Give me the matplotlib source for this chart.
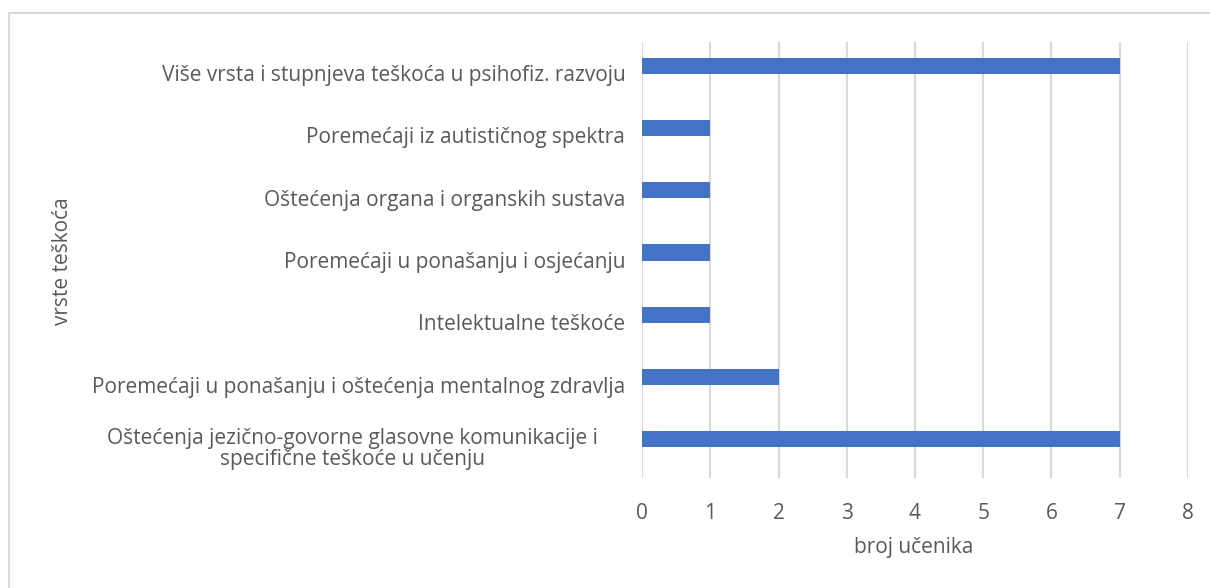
import matplotlib.pyplot as plt
import matplotlib.transforms as mtransforms
import numpy as np

plt.rcParams['font.family'] = ['Open Sans', 'DejaVu Sans']

categories = [
    "Oštećenja jezično-govorne glasovne komunikacije i\nspecifične teškoće u učenju",
    "Poremećaji u ponašanju i oštećenja mentalnog zdravlja",
    "Intelektualne teškoće",
    "Poremećaji u ponašanju i osjećanju",
    "Oštećenja organa i organskih sustava",
    "Poremećaji iz autističnog spektra",
    "Više vrsta i stupnjeva teškoća u psihofiz. razvoju",
]
values = [7, 2, 1, 1, 1, 1, 7]
xticks = [0, 1, 2, 3, 4, 5, 6, 7, 8]

txt = '#595959'
W, H = 1210, 588
fig = plt.figure(figsize=(W / 100, H / 100), dpi=100)
ax = fig.add_axes([642 / W, 1 - 478 / H, (1188 - 642) / W, (478 - 42) / H])

pos = np.arange(len(categories))
ax.barh(pos + 0.12, values, height=0.26, color='#4472C4', zorder=3)
ax.set_ylim(-0.5, len(categories) - 0.5)
ax.set_xlim(0, 8)
ax.set_yticks(pos)
ax.set_yticklabels(categories, fontsize=15, color=txt, multialignment='center', linespacing=1.0)
ax.set_xticks(xticks)
ax.set_xticklabels([str(t) for t in xticks], fontsize=15, color=txt)
ax.tick_params(axis='y', length=0, pad=12)
ax.tick_params(axis='x', length=0, pad=18)
ax.grid(axis='x', color='#d9d9d9', linewidth=1.5, zorder=0)
for s in ax.spines.values():
    s.set_visible(False)

# the wrapped bottom label sits a bit left of the others
lab = ax.get_yticklabels()[0]
lab.set_transform(lab.get_transform() + mtransforms.ScaledTranslation(-0.27, 0, fig.dpi_scale_trans))

fig.text(914 / W, 1 - 548 / H, "broj učenika", fontsize=15, color=txt, ha='center', va='center')
fig.text(62 / W, 1 - 261 / H, "vrste teškoća", fontsize=15, color=txt, ha='center', va='center', rotation=90)

# chart frame (left and top edges visible)
fig.add_artist(plt.Line2D([9 / W, 9 / W], [0, 1 - 13 / H], transform=fig.transFigure, color='#d9d9d9', linewidth=1.5))
fig.add_artist(plt.Line2D([9 / W, 1], [1 - 13 / H, 1 - 13 / H], transform=fig.transFigure, color='#d9d9d9', linewidth=1.5))

fig.savefig('out.png', dpi=100)
